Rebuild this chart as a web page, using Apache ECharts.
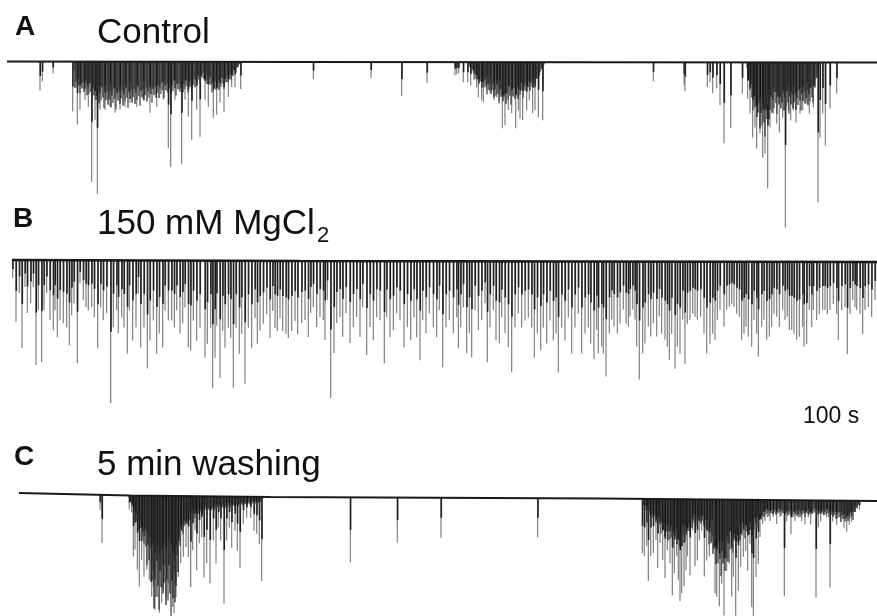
<!DOCTYPE html>
<html><head><meta charset="utf-8">
<script src="https://cdn.jsdelivr.net/npm/echarts@6/dist/echarts.min.js"></script>
<style>html,body{margin:0;padding:0;background:#fff}#c{width:877px;height:616px}</style>
</head><body><div id="c"></div>
<script>
// ---------- DATA (time units along x, amplitude relative to local baseline) ----------
const panelLetters = ['A', 'B', 'C'];
const panelTitles = ['Control', '150 mM MgCl', '5 min washing'];
const scaleLabel = '100 s';

// Baselines [time, offset]
const controlBaseline = [[7, 0.5], [300, 0], [877, -0.5]];
const mgBaseline = [[12, 0], [300, -1], [877, -2]];
const washBaseline = [[19, 0], [130, -2.5], [270, -4], [600, -5.5], [877, -8]];

// Control trace events [time, amplitude]
const controlSpikes = [
  [40, -29], [42.3, -20], [53, -12],
  [72.7, -50], [77.3, -63], [80, -48], [85, -38], [88.3, -45], [91.7, -120], [95, -58], [97.3, -132],
  [100, -48], [105, -48], [110, -45], [115, -51], [120, -48], [125, -45], [130, -41], [136.7, -45],
  [143.3, -38], [150, -51], [156.7, -45], [163.3, -38], [168.3, -86], [170.7, -105], [175, -38],
  [181.7, -102], [185, -38], [188.3, -55], [191.7, -78], [196.7, -48], [200, -75], [205, -38],
  [208.3, -45], [213.3, -56], [216.7, -53], [220, -41], [224, -50], [228.3, -35], [231.7, -25],
  [235, -25], [240.7, -27],
  [313.3, -17], [371, -16], [401.7, -34], [427, -21],
  [455, -13], [456.7, -12], [458.7, -11], [463.3, -20], [467.7, -20], [470.7, -23], [474, -18],
  [476.7, -25], [478.3, -35], [481.7, -38], [483.3, -40], [486.7, -28], [490, -30], [494, -38],
  [496.7, -35], [499.3, -38], [502.3, -66], [505, -63], [508.3, -48], [511.7, -51], [515.7, -66],
  [518.3, -48], [520, -56], [522.7, -58], [526.7, -48], [529.3, -38], [532.7, -51], [535, -48],
  [538.3, -55], [542.7, -58],
  [653.3, -19], [684, -23], [685, -29], [707.3, -25], [710, -20], [712.7, -31], [716.7, -26],
  [720, -43], [724, -81], [730.7, -66], [742.3, -31], [747.7, -36], [750, -51], [752.7, -75],
  [755, -65], [756.7, -86], [760, -71], [762.7, -95], [765, -91], [767.7, -126], [770, -65],
  [773.3, -51], [776.7, -61], [779.3, -70], [782.7, -55], [785.3, -165], [788.3, -48], [790.7, -58],
  [793.3, -48], [796, -60], [800, -51], [802.7, -48], [806.7, -41], [809.3, -51], [813.3, -45],
  [818, -140], [820, -75], [822.7, -51], [825.3, -83], [830, -46], [836.7, -31]
];
// Dense cores of the control bursts [time, amplitude]
const controlCore1 = [[73, 0], [75, -22], [87, -28], [97, -34], [110, -38], [127, -36], [143, -34], [157, -31],
  [167, -27], [180, -26], [193, -23], [203, -14], [213, -25], [223, -22], [233, -13], [241, 0]];
const controlCore2 = [[468, 0], [472, -8], [478, -18], [485, -24], [495, -30], [505, -35], [515, -32],
  [525, -27], [535, -20], [540, -10], [545, 0]];
const controlCore3 = [[746, 0], [749, -20], [752, -35], [756, -45], [760, -55], [764, -60], [768, -52],
  [772, -42], [778, -40], [785, -40], [795, -40], [805, -36], [812, -35], [816, -20], [819, 0]];

// MgCl2 trace events
const mgSpikes = [
  [12.7, -18], [16, -62], [19.3, -33], [22, -88], [25, -27], [27.3, -53], [30.7, -43], [33.3, -27],
  [36, -105], [38.3, -50], [41.7, -102], [44, -50], [46.7, -33], [50, -60], [53.3, -70], [55, -50],
  [57.3, -77], [60, -60], [63.3, -63], [66.7, -67], [69.3, -85], [71.7, -55], [74, -43], [77.3, -103],
  [80, -23], [83.3, -40], [86, -47], [88.3, -50], [91.7, -47], [94.3, -57], [97.7, -88], [100.7, -47],
  [103.3, -60], [106.7, -53], [110.7, -143], [113.3, -67], [116.7, -50], [118.3, -73], [121.7, -57],
  [124, -67], [127.3, -93], [129.3, -50], [132.7, -80], [136, -67], [138.3, -33], [140.7, -87],
  [144, -67], [147.3, -108], [150, -80], [153.3, -60], [156.7, -93], [159.3, -73], [162.7, -87],
  [165, -50], [168.3, -60], [171.7, -60], [174.3, -67], [176.7, -50], [180, -73], [182.7, -63],
  [185, -47], [188.3, -87], [190.7, -90], [193.3, -60], [196.7, -80], [200, -67], [205, -97],
  [207.3, -83], [210.7, -67], [212.7, -127], [215, -97], [216.7, -65], [220, -117], [222.7, -70],
  [225, -87], [228.3, -67], [230.7, -77], [233.3, -127], [236, -67], [239.3, -93], [241.7, -73],
  [245, -123], [248.3, -67], [251.7, -87], [255, -57], [257.3, -83], [260, -70], [263.3, -63],
  [266.7, -53], [270, -77], [272.7, -50], [275, -67], [277.3, -70], [280, -57], [282.7, -70],
  [286, -73], [288.3, -77], [291.7, -70], [295, -60], [297.7, -73],
  [301.7, -62], [305, -59], [308.3, -76], [310.7, -52], [313.3, -46], [316.7, -66], [320, -56],
  [323.3, -59], [325, -79], [327.3, -39], [330.7, -137], [334, -92], [336.7, -62], [340, -56],
  [342.7, -76], [346, -52], [350, -82], [353.3, -66], [356.7, -56], [360, -76], [362.7, -46],
  [366.7, -94], [370, -66], [373.3, -79], [376.7, -56], [380, -59], [384.3, -102], [386.7, -56],
  [390, -76], [393.3, -69], [396.7, -52], [400, -59], [404, -86], [407.3, -66], [410.7, -79],
  [414, -56], [416.7, -76], [420, -99], [422.7, -59], [426, -72], [429.3, -52], [433.3, -66],
  [436.7, -76], [439.3, -49], [442.7, -106], [446, -66], [449.3, -59], [453.3, -72], [456.7, -56],
  [458.3, -87], [460.7, -66], [463.3, -46], [466.7, -92], [469.3, -72], [471.7, -96], [475, -49],
  [478.3, -69], [481.7, -59], [485, -42], [487.3, -101], [490, -66], [493.3, -49], [496, -79],
  [499.3, -82], [501.7, -56], [505, -72], [508.3, -86], [511.7, -111], [515, -66], [518.3, -52],
  [521.7, -66], [525, -59], [528.3, -56], [531.7, -66], [534.3, -96], [537.3, -72], [540.7, -89],
  [543.3, -66], [546.7, -82], [550, -59], [553.3, -79], [556, -72], [558.3, -111], [561.7, -66],
  [565, -79], [568.3, -56], [571.7, -92], [575, -66], [578.3, -52], [581.7, -92], [585, -72],
  [588.3, -66],
  [590.7, -82], [594, -98], [596.7, -68], [598.3, -92], [601.7, -85], [603.3, -92], [606, -115],
  [609.3, -72], [611.7, -58], [614, -65], [617.3, -72], [620, -62], [623.3, -48], [626, -62],
  [628.3, -65], [630, -55], [632.7, -48], [635, -58], [636.7, -85], [639.3, -118], [642.7, -92],
  [645, -82], [648.3, -65], [650.7, -75], [653.3, -62], [656.7, -75], [659.3, -55], [661.7, -72],
  [665, -78], [667.3, -85], [669.3, -98], [671.7, -72], [675, -107], [677.3, -85], [680, -92],
  [682.7, -58], [685, -102], [687.3, -62], [690, -58], [692.7, -52], [695, -55], [697.3, -58],
  [700.7, -55], [704, -72], [706.7, -92], [710, -82], [712.7, -72], [715, -78], [717.3, -58],
  [720, -48], [724, -65], [726.7, -48], [729.3, -45], [731.7, -42], [734, -45], [736.7, -52],
  [739.3, -55], [741.7, -78], [744, -72], [746, -65], [748.3, -75], [751.7, -85], [754, -58],
  [756.7, -72], [758.3, -95], [761.7, -65], [764, -58], [766.7, -78], [769.3, -75], [771.7, -65],
  [774, -52], [776.7, -55], [779.3, -65], [782.7, -48], [785, -58], [787.3, -55], [789.3, -68],
  [791.7, -68], [794, -72], [796.7, -78], [799.3, -75], [802.7, -65], [804, -85], [806.7, -82],
  [809.3, -48], [811.7, -65], [813.3, -48], [816.7, -58], [819.3, -52], [822.7, -48], [825, -48],
  [827.3, -52], [830, -48], [833.3, -42], [836.7, -52], [838.3, -78], [841.7, -48], [845, -45],
  [847.3, -92], [850, -52], [852.7, -38], [855, -45], [856.7, -48], [860, -52], [862.7, -72],
  [865, -48], [868.3, -45], [871.7, -55], [875, -38]
];

// Washing trace events
const washSpikes = [
  [100, -15], [102, -48],
  [129.3, -14], [131.7, -17], [133.3, -61], [135, -54], [137.3, -74], [139.3, -91], [141.7, -64],
  [144, -81], [146.7, -74], [149.3, -84], [151.7, -101], [153.3, -91], [155, -114], [157.3, -101],
  [159.3, -117], [161.7, -107], [163.3, -94], [166, -101], [168.3, -87], [170.7, -97], [172.7, -111],
  [174, -117], [176, -101], [178.3, -81], [180.7, -67], [183.3, -61], [186, -51], [188.3, -61],
  [190.7, -91], [192.7, -54], [195, -34], [196.7, -74], [199.3, -47], [201.7, -41], [204, -81],
  [206.7, -67], [210, -87], [213.3, -44], [216, -67], [218.3, -31], [220.7, -44], [224, -107],
  [226.7, -44], [229.3, -31], [231.7, -51], [235, -34], [237.3, -54], [240, -71], [243.3, -27],
  [246.7, -21], [250.7, -21], [254, -34], [256.7, -37], [259.3, -47], [261.7, -84],
  [350.3, -65], [397.3, -45], [441, -40], [537.7, -39],
  [642.3, -54], [644.3, -57], [646.7, -47], [648.3, -82], [650.7, -57], [653.3, -54], [656, -41],
  [657.7, -69], [660, -44], [662.7, -61], [665, -79], [667.3, -51], [670, -64], [672.3, -96],
  [674.3, -74], [676.7, -57], [678.3, -81], [680, -102], [681.7, -94], [684, -87], [686, -71],
  [687.3, -57], [690, -76], [692.7, -31], [695, -67], [697.3, -61], [699.3, -41], [701.7, -31],
  [704.3, -77], [706.7, -61], [709.3, -57], [711.7, -41], [715, -94], [716.7, -97], [719.3, -107],
  [721.7, -84], [724, -116], [726.7, -71], [729.3, -64], [731.7, -97], [733.3, -77], [735.7, -116],
  [738.3, -91], [740.7, -67], [743.3, -57], [745.7, -51], [747.7, -71], [750, -44], [751.7, -107],
  [753.3, -116], [756, -77], [758.3, -64], [760, -37], [762.7, -24], [765, -21], [767.3, -17],
  [770, -21], [773.3, -17], [776.7, -24], [780, -17], [784.3, -96], [786.7, -21], [791, -34],
  [795, -21], [798.3, -17], [801.7, -21], [805, -24], [808.3, -17], [810.7, -24], [816, -97],
  [818.3, -27], [820.7, -21], [823.3, -14], [826.7, -17], [830, -87], [832.7, -21], [836.7, -24],
  [840.7, -21], [844, -27], [846.7, -31], [849.3, -24], [851.7, -21], [855, -11], [859.3, -9]
];
const washCore1 = [[128, 0], [132, -10], [137, -25], [143, -40], [150, -65], [153, -95], [158, -90],
  [163, -85], [168, -95], [172, -100], [176, -90], [179, -50], [183, -30], [190, -20], [200, -15],
  [220, -10], [240, -8], [260, -5], [263, 0]];
const washCore2 = [[642, 0], [646, -10], [655, -18], [663, -30], [672, -38], [680, -40], [687, -30],
  [695, -20], [705, -22], [712, -45], [718, -58], [725, -62], [730, -45], [738, -35], [745, -30],
  [752, -30], [758, -20], [765, -13], [780, -12], [800, -14], [815, -11], [830, -13], [845, -18],
  [853, -15], [860, 0]];

// ---------- CHART ----------
function interp(bl, x) {
  if (x <= bl[0][0]) return bl[0][1];
  for (let i = 1; i < bl.length; i++) {
    if (x <= bl[i][0]) {
      const t = (x - bl[i - 1][0]) / (bl[i][0] - bl[i - 1][0]);
      return bl[i - 1][1] + t * (bl[i][1] - bl[i - 1][1]);
    }
  }
  return bl[bl.length - 1][1];
}
function spikeRender(bl) {
  return function (params, api) {
    const x = api.value(0), a = api.value(1), b = interp(bl, x);
    const p0 = api.coord([x, b]), p1 = api.coord([x, b + a]), pm = api.coord([x, b + a * 0.5]);
    return {
      type: 'group', children: [
        { type: 'line', shape: { x1: p0[0], y1: p0[1], x2: p1[0], y2: p1[1] }, style: { stroke: '#747474', lineWidth: 1.1 } },
        { type: 'line', shape: { x1: p0[0] + 0.3, y1: p0[1], x2: pm[0] + 0.3, y2: pm[1] }, style: { stroke: '#202020', lineWidth: 1.6 } }
      ]
    };
  };
}
// dense core drawn as hatching of vertical strokes (visual texture only)
const hatch = [1.0, 0.78, 1.2, 0.9, 1.1, 0.72, 1.0, 1.28, 0.85, 1.05, 0.8, 1.15];
function coreRender(bl, arr) {
  return function (params, api) {
    if (params.dataIndex !== 0) return null;
    const children = [];
    const x0 = arr[0][0], x1 = arr[arr.length - 1][0];
    let k = 0;
    for (let x = x0; x <= x1; x += 1, k++) {
      const b = interp(bl, x), d = interp(arr, x) * hatch[k % hatch.length];
      const p0 = api.coord([x, b]), p1 = api.coord([x, b + d]);
      children.push({ type: 'line', shape: { x1: p0[0], y1: p0[1], x2: p1[0], y2: p1[1] },
        style: { stroke: k % 3 === 1 ? '#3c3c3c' : '#141414', lineWidth: 1.2 } });
    }
    return { type: 'group', children };
  };
}
const panels = [
  { bl: controlBaseline, spikes: controlSpikes, cores: [controlCore1, controlCore2, controlCore3], top: 40, height: 200, max: 22, lw: 2 },
  { bl: mgBaseline, spikes: mgSpikes, cores: [], top: 235, height: 180, max: 25, lw: 2.6 },
  { bl: washBaseline, spikes: washSpikes, cores: [washCore1, washCore2], top: 470, height: 146, max: 23, lw: 2 }
];
const grid = [], xAxis = [], yAxis = [], series = [];
panels.forEach((p, i) => {
  grid.push({ left: 0, right: 0, top: p.top, height: p.height });
  xAxis.push({ gridIndex: i, type: 'value', min: 0, max: 877, show: false });
  yAxis.push({ gridIndex: i, type: 'value', min: p.max - p.height, max: p.max, show: false });
  series.push({ type: 'custom', xAxisIndex: i, yAxisIndex: i, clip: true, data: p.spikes, renderItem: spikeRender(p.bl), z: 2 });
  p.cores.forEach(c => series.push({ type: 'custom', xAxisIndex: i, yAxisIndex: i, clip: true, data: c, renderItem: coreRender(p.bl, c), z: 3 }));
  series.push({ type: 'line', xAxisIndex: i, yAxisIndex: i, data: p.bl, symbol: 'none', lineStyle: { color: '#1a1a1a', width: p.lw }, z: 4, silent: true });
});
const font = '"Liberation Sans", Arial, sans-serif';
const txt = (t, x, y, size, bold) => ({ type: 'text', x, y, style: { text: t, font: (bold ? 'bold ' : '') + size + 'px ' + font, fill: '#111', verticalAlign: 'middle' } });
const chart = echarts.init(document.getElementById('c'), null, { renderer: 'canvas' });
chart.setOption({
  animation: false,
  backgroundColor: '#fff',
  grid, xAxis, yAxis, series,
  graphic: [
    txt(panelLetters[0], 15, 27, 28, true),
    txt(panelTitles[0], 97, 33, 35, false),
    txt(panelLetters[1], 13, 219, 28, true),
    txt(panelTitles[1], 97, 224.5, 35, false),
    txt('2', 317, 236, 22, false),
    txt(panelLetters[2], 14, 457, 28, true),
    txt(panelTitles[2], 97, 465.5, 35, false),
    txt(scaleLabel, 803, 416.5, 23, false)
  ]
});
</script></body></html>
